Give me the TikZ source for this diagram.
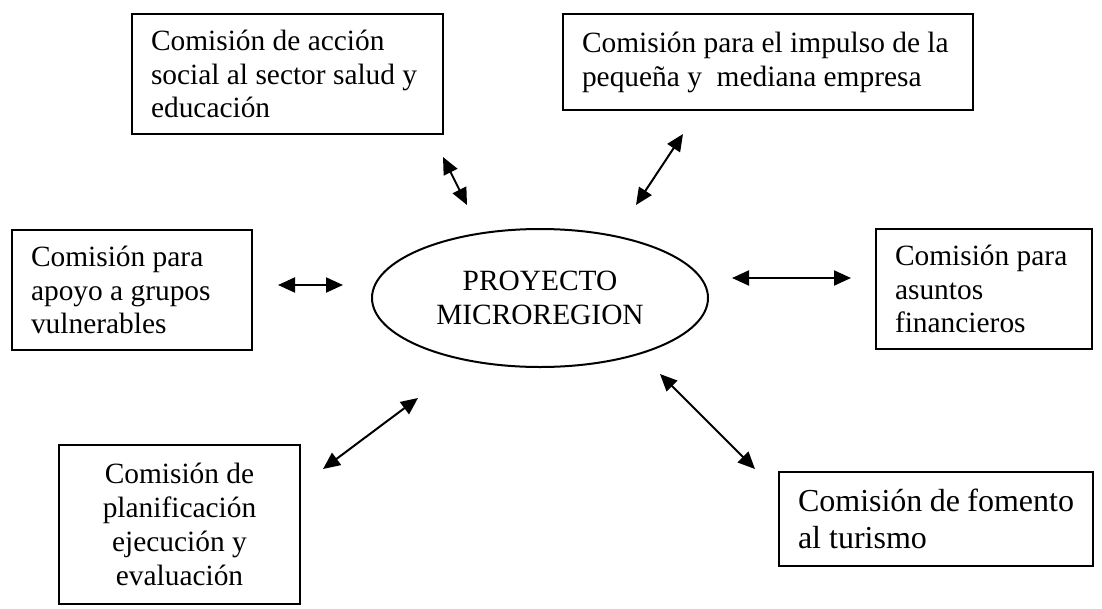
\documentclass[tikz,border=0pt]{standalone}
\usepackage{fontspec}
\setmainfont{Liberation Serif}
\usetikzlibrary{positioning}
\usetikzlibrary{shapes.geometric, arrows.meta}

\tikzset{
  combox/.style={draw, rectangle, line width=2pt, inner xsep=19pt, inner ysep=0pt, align=flush left, font=\fontsize{29.4}{33.9}\selectfont},
  link/.style={>={Triangle[length=17pt, width=15pt]}, <->, line width=2pt}
}

\begin{document}
\begin{tikzpicture}[x=1pt, y=-1pt]

    \useasboundingbox (0,0) rectangle (1102,608);

    % Centre
    \node (hub) [draw, ellipse, line width=2pt, minimum width=336pt, minimum height=138pt, inner sep=0pt, align=center, font=\fontsize{29.4}{33.9}\selectfont] at (540,298) {PROYECTO\\MICROREGION};

    % Commissions
    \node (com1) [combox, text width=273pt, minimum height=120pt] at (287.5,74) {Comisión de acción\\social al sector salud y\\educación};
    \node (com2) [combox, text width=372pt, minimum height=96pt] at (768,62) {Comisión para el impulso de la\\pequeña y \ mediana empresa};
    \node (com3) [combox, text width=202pt, minimum height=120pt] at (132,290) {Comisión para\\apoyo a grupos\\vulnerables};
    \node (com4) [combox, text width=178pt, minimum height=120pt] at (984,289) {Comisión para\\asuntos\\financieros};
    \node (com5) [combox, align=flush center, text width=203pt, minimum height=159pt] at (179.5,524.5) {Comisión de\\planificación\\ejecución y\\evaluación};
    \node (com6) [combox, font=\fontsize{32}{37}\selectfont, text width=276pt, minimum height=94pt] at (936,519) {Comisión de fomento\\al turismo};

    % Arrow ends
    \coordinate (a1s) at (443,157);
    \coordinate (a1e) at (467,205);
    \coordinate (a2s) at (683,134);
    \coordinate (a2e) at (636,205);
    \coordinate (a3s) at (278,285);
    \coordinate (a3e) at (343,285);
    \coordinate (a4s) at (732,278);
    \coordinate (a4e) at (851,278);
    \coordinate (a5s) at (418,398);
    \coordinate (a5e) at (323,469);
    \coordinate (a6s) at (660,374);
    \coordinate (a6e) at (755,469);

    % Arrows
    \draw[link] (a1s) -- (a1e);
    \draw[link] (a2s) -- (a2e);
    \draw[link] (a3s) -- (a3e);
    \draw[link] (a4s) -- (a4e);
    \draw[link] (a5s) -- (a5e);
    \draw[link] (a6s) -- (a6e);

\end{tikzpicture}
\end{document}
